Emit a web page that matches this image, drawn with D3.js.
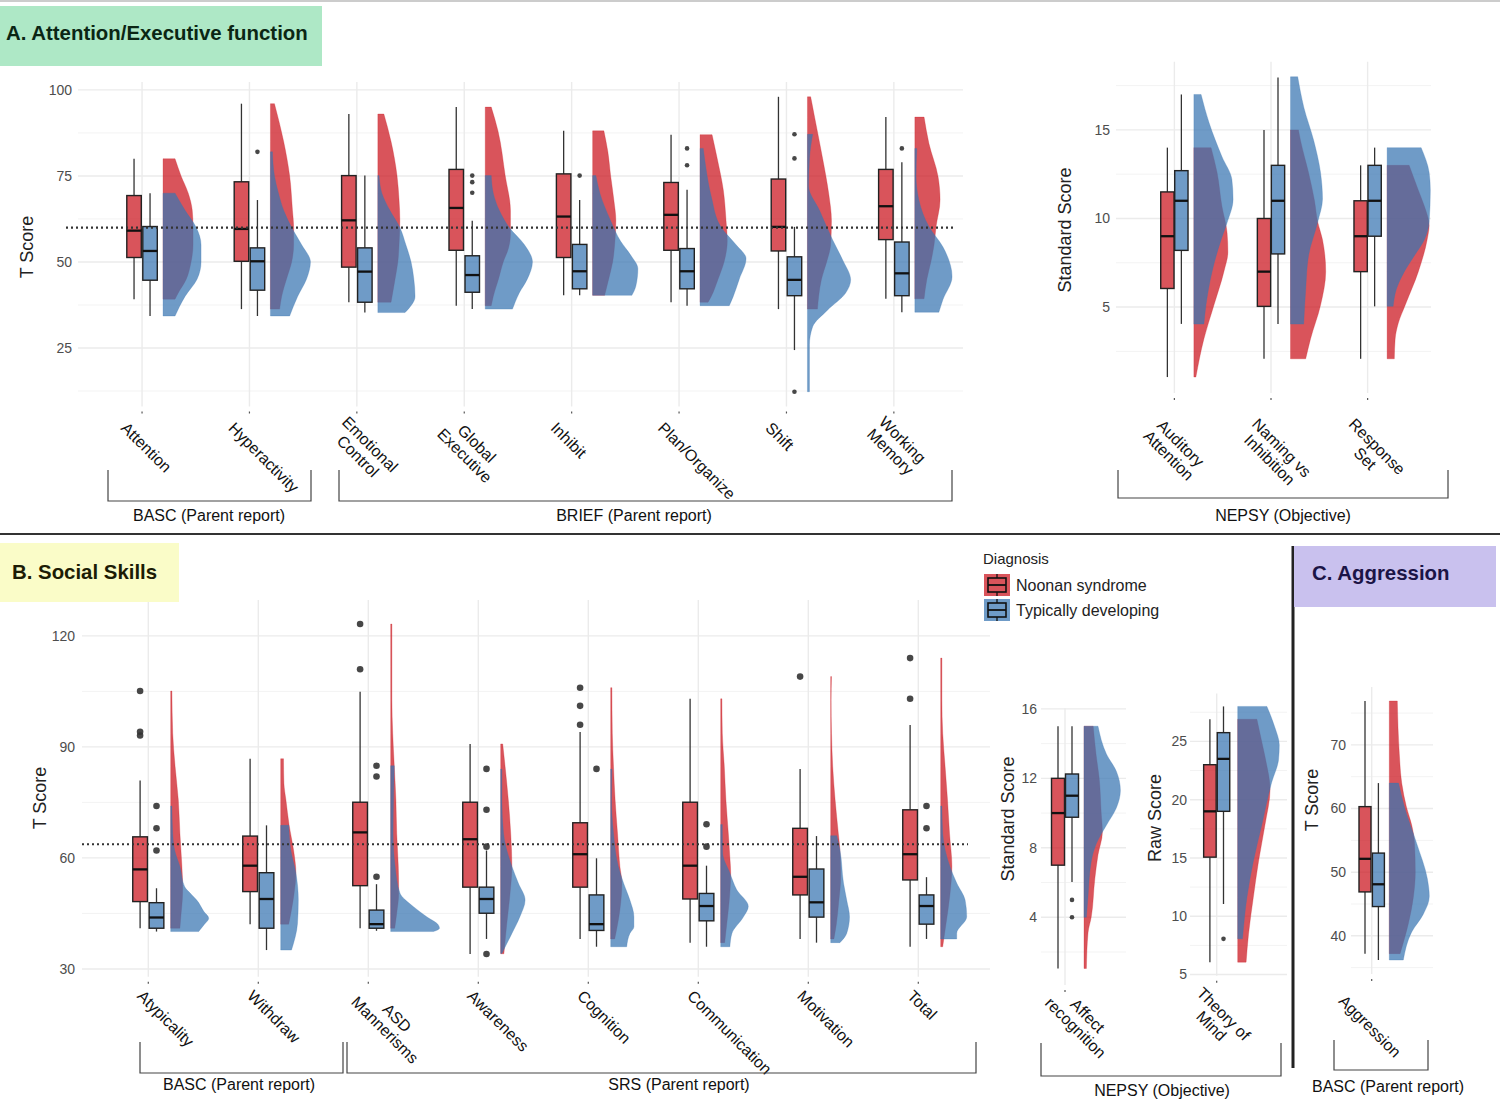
<!DOCTYPE html>
<meta charset="utf-8">
<script src="https://d3js.org/d3.v7.min.js"></script>
<style>
body { margin: 0; background: #fff; }
svg text { font-family: "Liberation Sans", Arial, sans-serif; }
.tick-label { font-size: 14px; fill: #4d4d4d; }
.axis-title { font-size: 18px; fill: #222; }
.cat-label { font-size: 16px; fill: #111; }
.group-label { font-size: 16px; fill: #111; }
.title { font-size: 20.4px; font-weight: 700; }
</style>
<div id="chart"></div>
<script>
// groups
const groupNames = ["Noonan syndrome", "Typically developing"];
const groupColors = ["#CB151E", "#3A76B2"];

// box stats: [lower whisker, q1, median, q3, upper whisker]
// densities: [value, relative density]

// ---- A. Attention / Executive function (T score)
const execMeasures = ["Attention", "Hyperactivity", "Emotional\nControl", "Global\nExecutive",
  "Inhibit", "Plan/Organize", "Shift", "Working\nMemory"];
const execBoxNS = [[39.2, 51.3, 59.1, 69.3, 80], [36.3, 50.2, 59.6, 73.3, 96], [38.3, 48.5, 62.1, 75.1, 93],
  [37.3, 53.4, 65.7, 76.9, 95], [40.3, 51.3, 63.2, 75.6, 88.1], [38.3, 53.4, 63.7, 73.1, 87],
  [36.3, 53.2, 60.2, 74.1, 98], [39.3, 56.5, 66.2, 76.9, 92.1]];
const execBoxTD = [[34.3, 44.7, 53.2, 60.3, 70], [34.3, 41.8, 50.2, 54.1, 68], [35.3, 38.3, 47.2, 54.1, 75.1],
  [36.3, 41.2, 46.2, 51.8, 62], [40.3, 42.2, 47.3, 55.1, 68], [37.3, 42.2, 47.3, 53.9, 71],
  [24.4, 40.2, 44.8, 51.5, 60.2], [35.4, 40.2, 46.7, 55.8, 79]];
const execOutNS = [[], [], [], [], [], [], [], []];
const execOutTD = [[], [82], [], [70.1, 73.2, 75.1], [75.1], [78.1, 83], [12.3, 80.1, 87.1], [83]];
const execDensNS = [
  [[80, .30], [75, .45], [70, .63], [65, .73], [60, .75], [55, .75], [50, .70], [45, .58], [41, .38], [39.2, .30]],
  [[96, .10], [85, .33], [75, .48], [65, .55], [60, .58], [55, .58], [50, .53], [45, .40], [40, .28], [36.3, .23]],
  [[93, .15], [85, .33], [75, .48], [68, .53], [62, .55], [55, .53], [50, .50], [45, .43], [38.3, .33]],
  [[95, .15], [88, .32], [75, .50], [65, .63], [58, .63], [54, .58], [50, .45], [45, .33], [40, .20], [37.3, .15]],
  [[88.1, .28], [82, .38], [75, .45], [68, .53], [62, .58], [55, .55], [50, .50], [45, .40], [40.3, .30]],
  [[87, .30], [80, .43], [71, .58], [62, .65], [56, .68], [50, .60], [45, .45], [40, .28], [38.3, .20]],
  [[98, .08], [92, .18], [80, .38], [70, .53], [62, .60], [55, .58], [50, .48], [45, .35], [40, .28], [36.3, .25]],
  [[92.1, .23], [84.5, .35], [74.8, .58], [68, .63], [60.3, .53], [55, .48], [50, .40], [45, .30], [39.3, .23]]
];
const execDensTD = [
  [[70, .30], [65, .55], [60, .83], [55, .95], [50, .95], [45, .85], [40, .55], [34.3, .30]],
  [[82, .05], [75, .10], [70, .20], [65, .33], [60, .53], [55, .78], [50, 1.0], [45, .90], [40, .68], [34.3, .48]],
  [[75.1, .03], [70, .10], [65, .30], [60, .55], [55, .70], [50, .83], [45, .90], [40, .93], [35.3, .68]],
  [[75.1, .15], [70, .20], [65, .35], [60, .60], [55, .98], [50, 1.18], [45, 1.05], [41, .85], [36.3, .68]],
  [[75.1, .08], [70, .18], [62, .45], [56, .70], [52, .95], [48, 1.13], [43, 1.08], [40.3, .98]],
  [[83, .08], [77, .15], [69, .28], [60, .53], [55, .90], [51, 1.15], [45, .98], [40, .83], [37.3, .73]],
  [[87.1, .13], [80, .05], [72, .03], [65, .30], [56.4, .63], [50.6, .88], [44.8, 1.08], [40.9, .95], [36, .50], [31.2, .13], [26, .05], [12.3, .05]],
  [[83, .05], [75, .03], [68, .10], [60.3, .35], [54.4, .70], [45.7, .93], [39, .70], [35.4, .60]]
];

// ---- A. NEPSY (standard score)
const nepsyAMeasures = ["Auditory\nAttention", "Naming vs\nInhibition", "Response\nSet"];
const nepsyABoxNS = [[1.05, 6.05, 9, 11.5, 14], [2.08, 5.04, 7, 10, 15], [2.08, 7, 9, 11, 13]];
const nepsyABoxTD = [[4.05, 8.2, 11, 12.7, 17], [4.04, 8, 11, 13, 17.96], [5.04, 9, 11, 13, 14]];
const nepsyAOutNS = [[], [], []];
const nepsyAOutTD = [[], [], []];
const nepsyADensNS = [
  [[14, .43], [12.6, .58], [10.7, .70], [9.2, .83], [8.1, .85], [7, .75], [5.1, .50], [3.2, .25], [1.05, .05]],
  [[15, .20], [14.4, .25], [12.6, .45], [11, .60], [9.8, .68], [8.8, .80], [7, .88], [5.1, .75], [3.2, .50], [2.08, .38]],
  [[13, .55], [11.6, .78], [10.7, .93], [9.6, 1.05], [8.8, 1.0], [7, .78], [5.1, .45], [4.1, .28], [3.2, .20], [2.08, .18]]
];
const nepsyADensTD = [
  [[17, .18], [15.4, .38], [13.5, .70], [12.2, .95], [11.07, .98], [9.76, .83], [8.8, .68], [6.95, .45], [5.07, .30], [4.04, .25]],
  [[18, .18], [16.3, .33], [14.4, .58], [12.6, .75], [11.1, .80], [9.8, .68], [7.9, .45], [6, .38], [4.04, .33]],
  [[14, .85], [12.6, 1.05], [11.6, 1.08], [9.8, 1.05], [8.8, .93], [7.9, .68], [7, .43], [6, .23], [5.04, .15]]
];

// ---- B. Social skills (T score)
const socialMeasures = ["Atypicality", "Withdraw", "ASD\nMannerisms", "Awareness", "Cognition",
  "Communication", "Motivation", "Total"];
const socialBoxNS = [[41, 48.2, 56.9, 65.7, 80.9], [42.1, 50.9, 57.9, 65.9, 86.8], [41, 52.5, 66.9, 75.05, 104.9],
  [34.05, 52.1, 65.05, 75.05, 90.8], [38.1, 52.1, 61, 69.5, 94], [37.1, 48.9, 57.9, 75.05, 103],
  [38.1, 50, 54.9, 68, 84], [36, 54.05, 61, 73, 95.9]];
const socialBoxTD = [[40.1, 41, 43.9, 47.9, 51.8], [35.1, 41, 48.9, 56, 68.8], [40.3, 41, 42.1, 45.9, 52.9],
  [38.1, 45.05, 48.9, 52.1, 62], [36, 40.4, 42.1, 50, 59.9], [36, 43, 47, 50.4, 57.9],
  [37.1, 44, 48, 57, 65.9], [38.1, 42.1, 47, 50, 54.8]];
const socialOutNS = [[93.1, 94.1, 105.1], [], [111, 123.2], [], [96, 101.1, 106], [], [109], [103, 114]];
const socialOutTD = [[62, 68, 74.05], [], [54.9, 82, 84.9], [34.05, 63.05, 73, 84.05], [84.05], [63.05, 69.1], [], [68, 74.05]];
const socialDensNS = [
  [[105.1, .03], [93.7, .05], [84.7, .11], [75.7, .19], [66.7, .23], [57.7, .28], [52, .30], [48.6, .29], [45, .26], [41, .23]],
  [[86.8, .07], [80.2, .08], [75.7, .13], [68.9, .21], [62.2, .32], [55.9, .38], [50, .33], [42.1, .20]],
  [[123.2, .03], [111.7, .03], [102.7, .03], [93.7, .05], [84.7, .09], [75.7, .13], [66.7, .15], [57.7, .19], [50.5, .20], [45, .15], [41, .10]],
  [[90.8, .05], [84.7, .11], [75.7, .19], [66.7, .25], [57.7, .28], [50, .23], [42, .15], [34.1, .08]],
  [[106, .03], [93.7, .04], [84.7, .07], [75.7, .11], [66.7, .17], [57.7, .23], [53.2, .28], [46, .23], [38.1, .10]],
  [[103, .03], [93.7, .04], [84.7, .09], [75.7, .13], [66.7, .19], [60, .23], [55.9, .25], [48, .21], [42, .15], [37.1, .10]],
  [[109, .02], [102.7, .01], [93.7, .02], [84.7, .05], [75.7, .11], [66.7, .19], [62.2, .23], [55, .25], [48, .20], [42, .14], [38.1, .08]],
  [[114, .03], [102.7, .03], [93.7, .05], [84.7, .11], [75.7, .17], [66.7, .22], [57.7, .28], [50, .23], [42, .13], [36, .05]]
];
const socialDensTD = [
  [[74, .03], [66.7, .05], [62, .10], [57.7, .23], [52.2, .35], [50, .53], [48.6, .65], [45.5, .83], [43.7, .95], [41.9, .83], [40.1, .70]],
  [[68.8, .20], [62.2, .25], [55.9, .38], [48.6, .44], [42.3, .42], [35.1, .27]],
  [[84.9, .09], [75.7, .07], [66.7, .06], [57.7, .11], [50.5, .23], [46.8, .57], [44.1, .90], [41.9, 1.19], [41, 1.22], [40.1, 1.07]],
  [[84, .03], [75.7, .03], [66.7, .07], [57.7, .28], [53.2, .44], [48.6, .61], [44.1, .48], [39.6, .28], [34.2, .03]],
  [[84, .03], [75.7, .02], [66.7, .07], [57.7, .19], [53.2, .32], [48.6, .48], [44.1, .58], [41.4, .58], [39.6, .48], [36, .40]],
  [[69, .04], [61.3, .05], [55.9, .23], [51.4, .40], [46.9, .69], [44.1, .57], [39.6, .28], [36, .23]],
  [[66, .15], [62.2, .23], [53.2, .32], [48.6, .40], [44.1, .47], [39.6, .40], [37.1, .23]],
  [[74, .03], [66.7, .05], [57.7, .23], [53.2, .40], [48.6, .61], [44.1, .65], [39.6, .40], [38.1, .40]]
];

// ---- B. NEPSY affect recognition (standard score)
const affectMeasures = ["Affect\nrecognition"];
const affectBoxNS = [[1.05, 7, 10, 12, 15]];
const affectBoxTD = [[6.03, 9.76, 11, 12.25, 15]];
const affectOutNS = [[]];
const affectOutTD = [[4, 5]];
const affectDensNS = [[[15, .23], [13.4, .30], [12, .38], [10, .43], [8.9, .46], [7.6, .35], [6.2, .27], [4, .18], [3.1, .10], [1.05, .06]]];
const affectDensTD = [[[15, .35], [13.4, .56], [12.4, .81], [11.3, .91], [10.3, .81], [9.3, .56], [8.25, .31], [7.2, .18], [5.2, .10], [4, .06]]];

// ---- B. NEPSY theory of mind (raw score)
const tomMeasures = ["Theory of\nMind"];
const tomBoxNS = [[6.06, 15.07, 19, 23, 26.9]];
const tomBoxTD = [[11.05, 19, 23.5, 25.75, 28]];
const tomOutNS = [[]];
const tomOutTD = [[8.06]];
const tomDensNS = [[[26.9, .48], [25, .60], [23.4, .70], [20.9, .81], [17.8, .68], [14.7, .52], [11.6, .39], [8.46, .27], [6.06, .21]]];
const tomDensTD = [[[28, .73], [26.2, .93], [24.7, 1.04], [23.4, 1.02], [21.5, .85], [17.8, .60], [14.7, .39], [11.6, .23], [8.06, .12]]];

// ---- C. Aggression (T score)
const aggMeasures = ["Aggression"];
const aggBoxNS = [[37.2, 46.9, 52.1, 60.3, 76.9]];
const aggBoxTD = [[36.2, 44.6, 48.1, 53, 64]];
const aggOutNS = [[]];
const aggOutTD = [[]];
const aggDensNS = [[[76.9, .20], [68.6, .25], [64, .31], [60.2, .43], [57.4, .56], [54.6, .63], [50, .65], [46, .60], [42, .48], [37.2, .27]]];
const aggDensTD = [[[64, .23], [60.2, .38], [54.6, .68], [49, .95], [46.2, 1.0], [43.4, .85], [40.6, .56], [36.2, .35]]];

// instrument groupings shown under the axes
const instrumentNames = ["BASC (Parent report)", "BRIEF (Parent report)", "NEPSY (Objective)",
  "BASC (Parent report)", "SRS (Parent report)", "NEPSY (Objective)", "BASC (Parent report)"];

const svg = d3.select("#chart").append("svg")
  .attr("width", 1500).attr("height", 1100);
svg.append("rect").attr("width", 1500).attr("height", 1100).attr("fill", "#fff");

const panels = [
  { measures: execMeasures, box: [execBoxNS, execBoxTD], out: [execOutNS, execOutTD], dens: [execDensNS, execDensTD],
    yDomain: [8, 102.3], top: 82, bottom: 406.5, xRange: [77.6, 958.3], grid: [78, 963],
    ticks: [25, 50, 75, 100], minor: [12.5, 37.5, 62.5, 87.5], tickX: 72,
    title: "T Score", titleX: 27, titleY: 247, ref: 60, refX: [66, 953],
    boxOff: 8, boxW: 14.5, violOff: 21, labDx: -18, labY: 425, r: 2.3 },
  { measures: nepsyAMeasures, box: [nepsyABoxNS, nepsyABoxTD], out: [nepsyAOutNS, nepsyAOutTD], dens: [nepsyADensNS, nepsyADensTD],
    yDomain: [0.15, 18.85], top: 61.7, bottom: 393, xRange: [1116.4, 1425.6], grid: [1116, 1431],
    ticks: [5, 10, 15], minor: [2.5, 7.5, 12.5, 17.5], tickX: 1110,
    title: "Standard Score", titleX: 1065, titleY: 230,
    boxOff: 7, boxW: 13.3, violOff: 19.5, labDx: -22, labY: 427, r: 2.3 },
  { measures: socialMeasures, box: [socialBoxNS, socialBoxTD], out: [socialOutNS, socialOutTD], dens: [socialDensNS, socialDensTD],
    yDomain: [27.9, 129.7], top: 600, bottom: 976.7, xRange: [82.3, 984.3], grid: [82, 990],
    ticks: [30, 60, 90, 120], minor: [45, 75, 105], tickX: 75,
    title: "T Score", titleX: 40, titleY: 798, ref: 63.7, refX: [82, 968],
    boxOff: 8.2, boxW: 14.7, violOff: 22.4, labDx: -8, labY: 993, r: 3.3 },
  { measures: affectMeasures, box: [affectBoxNS, affectBoxTD], out: [affectOutNS, affectOutTD], dens: [affectDensNS, affectDensTD],
    yDomain: [0.1, 16.05], top: 708, bottom: 985, xRange: [1015, 1115], grid: [1041, 1126],
    ticks: [4, 8, 12, 16], minor: [2, 6, 10, 14], tickX: 1037,
    title: "Standard Score", titleX: 1008, titleY: 819,
    boxOff: 7, boxW: 13, violOff: 19, labDx: -11, labY: 994, r: 2.3 },
  { measures: tomMeasures, box: [tomBoxNS, tomBoxTD], out: [tomOutNS, tomOutTD], dens: [tomDensNS, tomDensTD],
    yDomain: [4.9, 29.1], top: 693.6, bottom: 975.7, xRange: [1166.7, 1266.7], grid: [1190, 1287],
    ticks: [5, 10, 15, 20, 25], minor: [7.5, 12.5, 17.5, 22.5, 27.5], tickX: 1187,
    title: "Raw Score", titleX: 1155, titleY: 818,
    boxOff: 6.8, boxW: 12.5, violOff: 21, labDx: -23, labY: 996, r: 2.3 },
  { measures: aggMeasures, box: [aggBoxNS, aggBoxTD], out: [aggOutNS, aggOutTD], dens: [aggDensNS, aggDensTD],
    yDomain: [34, 79.1], top: 687, bottom: 974, xRange: [1321.7, 1421.7], grid: [1351, 1433],
    ticks: [40, 50, 60, 70], minor: [35, 45, 55, 65, 75], tickX: 1346,
    title: "T Score", titleX: 1312, titleY: 800,
    boxOff: 6.7, boxW: 12, violOff: 17.6, labDx: -30, labY: 998, r: 2.3 }
];

// bracket layout, one per instrument name
const brackets = [
  { x0: 108, x1: 311, y0: 470, y1: 501, lx: 209, ly: 521 },
  { x0: 339, x1: 952, y0: 470, y1: 501, lx: 634, ly: 521 },
  { x0: 1118, x1: 1448, y0: 470, y1: 498, lx: 1283, ly: 521 },
  { x0: 140, x1: 343, y0: 1042, y1: 1073, lx: 239, ly: 1090 },
  { x0: 347, x1: 976, y0: 1042, y1: 1073, lx: 679, ly: 1090 },
  { x0: 1041, x1: 1281, y0: 1043, y1: 1076, lx: 1162, ly: 1096 },
  { x0: 1334, x1: 1428, y0: 1040, y1: 1070, lx: 1388, ly: 1092 }
];

function drawPanel(p) {
  const y = d3.scaleLinear().domain(p.yDomain).range([p.bottom, p.top]);
  const x = d3.scalePoint().domain(p.measures).range(p.xRange).padding(0.6);
  const w = d3.scaleLinear().domain([0, 1]).range([0, 40]);
  const g = svg.append("g");

  // grid
  g.selectAll(null).data(p.minor).join("line")
    .attr("x1", p.grid[0]).attr("x2", p.grid[1])
    .attr("y1", d => y(d)).attr("y2", d => y(d))
    .attr("stroke", "#f3f3f3").attr("stroke-width", 1);
  g.selectAll(null).data(p.ticks).join("line")
    .attr("x1", p.grid[0]).attr("x2", p.grid[1])
    .attr("y1", d => y(d)).attr("y2", d => y(d))
    .attr("stroke", "#ebebeb").attr("stroke-width", 1.4);
  g.selectAll(null).data(p.measures).join("line")
    .attr("x1", d => x(d)).attr("x2", d => x(d))
    .attr("y1", p.top).attr("y2", p.bottom)
    .attr("stroke", "#ebebeb").attr("stroke-width", 1.4);
  // small x ticks
  g.selectAll(null).data(p.measures).join("line")
    .attr("x1", d => x(d)).attr("x2", d => x(d))
    .attr("y1", p.bottom + 5).attr("y2", p.bottom + 7)
    .attr("stroke", "#555").attr("stroke-width", 1.2);

  // y labels
  g.selectAll(null).data(p.ticks).join("text")
    .attr("class", "tick-label")
    .attr("x", p.tickX).attr("y", d => y(d)).attr("dy", "0.35em")
    .attr("text-anchor", "end").text(d => d);
  g.append("text").attr("class", "axis-title")
    .attr("transform", `translate(${p.titleX},${p.titleY}) rotate(-90)`)
    .attr("text-anchor", "middle").attr("dy", "0.35em").text(p.title);

  p.measures.forEach((m, i) => {
    const cx = x(m);
    const base = cx + p.violOff;
    // half violins
    [0, 1].forEach(k => {
      const area = d3.area()
        .y(d => y(d[0]))
        .x0(base)
        .x1(d => base + w(d[1]))
        .curve(d3.curveMonotoneY);
      g.append("path").datum(p.dens[k][i])
        .attr("d", area)
        .attr("fill", groupColors[k]).attr("fill-opacity", 0.73)
        .attr("stroke", groupColors[k]).attr("stroke-opacity", 0.45).attr("stroke-width", 0.6);
    });
    // boxes
    [0, 1].forEach(k => {
      const s = p.box[k][i];
      const bx = cx + (k ? p.boxOff : -p.boxOff);
      g.append("line").attr("x1", bx).attr("x2", bx)
        .attr("y1", y(s[0])).attr("y2", y(s[1]))
        .attr("stroke", "#333").attr("stroke-width", 1.3);
      g.append("line").attr("x1", bx).attr("x2", bx)
        .attr("y1", y(s[3])).attr("y2", y(s[4]))
        .attr("stroke", "#333").attr("stroke-width", 1.3);
      g.append("rect")
        .attr("x", bx - p.boxW / 2).attr("width", p.boxW)
        .attr("y", y(s[3])).attr("height", y(s[1]) - y(s[3]))
        .attr("fill", groupColors[k]).attr("fill-opacity", 0.73)
        .attr("stroke", "#222").attr("stroke-width", 1.4);
      g.append("line")
        .attr("x1", bx - p.boxW / 2).attr("x2", bx + p.boxW / 2)
        .attr("y1", y(s[2])).attr("y2", y(s[2]))
        .attr("stroke", "#111").attr("stroke-width", 2.3);
      g.selectAll(null).data(p.out[k][i]).join("circle")
        .attr("cx", bx).attr("cy", d => y(d)).attr("r", p.r)
        .attr("fill", "#333").attr("fill-opacity", 0.9);
    });

    // rotated category label, lines centred within the block
    const lab = g.append("g")
      .attr("transform", `translate(${cx + p.labDx},${p.labY}) rotate(45)`);
    const lines = m.split("\n");
    const texts = lines.map((t, j) => lab.append("text")
      .attr("class", "cat-label")
      .attr("y", (j - (lines.length - 1) / 2) * 17)
      .attr("dy", "0.35em").text(t));
    const widths = texts.map(t => t.node().getComputedTextLength());
    const maxW = d3.max(widths);
    texts.forEach((t, j) => t.attr("x", (maxW - widths[j]) / 2));
  });

  // dotted reference line on top
  if (p.ref != null) {
    g.append("line")
      .attr("x1", p.refX[0]).attr("x2", p.refX[1])
      .attr("y1", y(p.ref)).attr("y2", y(p.ref))
      .attr("stroke", "#333").attr("stroke-width", 2.2)
      .attr("stroke-dasharray", "2,3");
  }
}

panels.forEach(drawPanel);

// instrument brackets
brackets.forEach((b, i) => {
  svg.append("path")
    .attr("d", `M${b.x0},${b.y0}V${b.y1}H${b.x1}V${b.y0}`)
    .attr("fill", "none").attr("stroke", "#444").attr("stroke-width", 1.2);
  svg.append("text").attr("class", "group-label")
    .attr("x", b.lx).attr("y", b.ly).attr("text-anchor", "middle")
    .text(instrumentNames[i]);
});

// separators
svg.append("line").attr("x1", 0).attr("x2", 1500).attr("y1", 1).attr("y2", 1)
  .attr("stroke", "#ccc").attr("stroke-width", 2);
svg.append("line").attr("x1", 0).attr("x2", 1500).attr("y1", 534).attr("y2", 534)
  .attr("stroke", "#333").attr("stroke-width", 2);
svg.append("line").attr("x1", 1293).attr("x2", 1293).attr("y1", 546).attr("y2", 1068)
  .attr("stroke", "#222").attr("stroke-width", 3);

// panel titles
const titles = [
  { text: "A. Attention/Executive function", x: 0, y: 6, w: 322, h: 60, bg: "#aee8c6", fg: "#0b2614", tx: 6, ty: 40 },
  { text: "B. Social Skills", x: 0, y: 543, w: 179, h: 59, bg: "#fafcc8", fg: "#1c1c05", tx: 12, ty: 579 },
  { text: "C. Aggression", x: 1294, y: 546, w: 202, h: 61, bg: "#c9c1ee", fg: "#1b1446", tx: 1312, ty: 580 }
];
titles.forEach(t => {
  svg.append("rect").attr("x", t.x).attr("y", t.y).attr("width", t.w).attr("height", t.h).attr("fill", t.bg);
  svg.append("text").attr("class", "title").attr("x", t.tx).attr("y", t.ty).attr("fill", t.fg).text(t.text);
});

// legend
const leg = svg.append("g");
leg.append("text").attr("x", 983).attr("y", 564).style("font-size", "15px").attr("fill", "#222").text("Diagnosis");
groupNames.forEach((n, k) => {
  const y0 = 574 + k * 25;
  leg.append("rect").attr("x", 984).attr("y", y0).attr("width", 26).attr("height", 22)
    .attr("fill", groupColors[k]).attr("fill-opacity", 0.73);
  leg.append("rect").attr("x", 988).attr("y", y0 + 4).attr("width", 18).attr("height", 14)
    .attr("fill", "none").attr("stroke", "#111").attr("stroke-width", 1.6);
  leg.append("line").attr("x1", 988).attr("x2", 1006).attr("y1", y0 + 11).attr("y2", y0 + 11)
    .attr("stroke", "#111").attr("stroke-width", 1.8);
  leg.append("line").attr("x1", 997).attr("x2", 997).attr("y1", y0).attr("y2", y0 + 4)
    .attr("stroke", "#111").attr("stroke-width", 1.3);
  leg.append("line").attr("x1", 997).attr("x2", 997).attr("y1", y0 + 18).attr("y2", y0 + 22)
    .attr("stroke", "#111").attr("stroke-width", 1.3);
  leg.append("text").attr("x", 1016).attr("y", y0 + 11).attr("dy", "0.35em")
    .style("font-size", "16px").attr("fill", "#222").text(n);
});
</script>
